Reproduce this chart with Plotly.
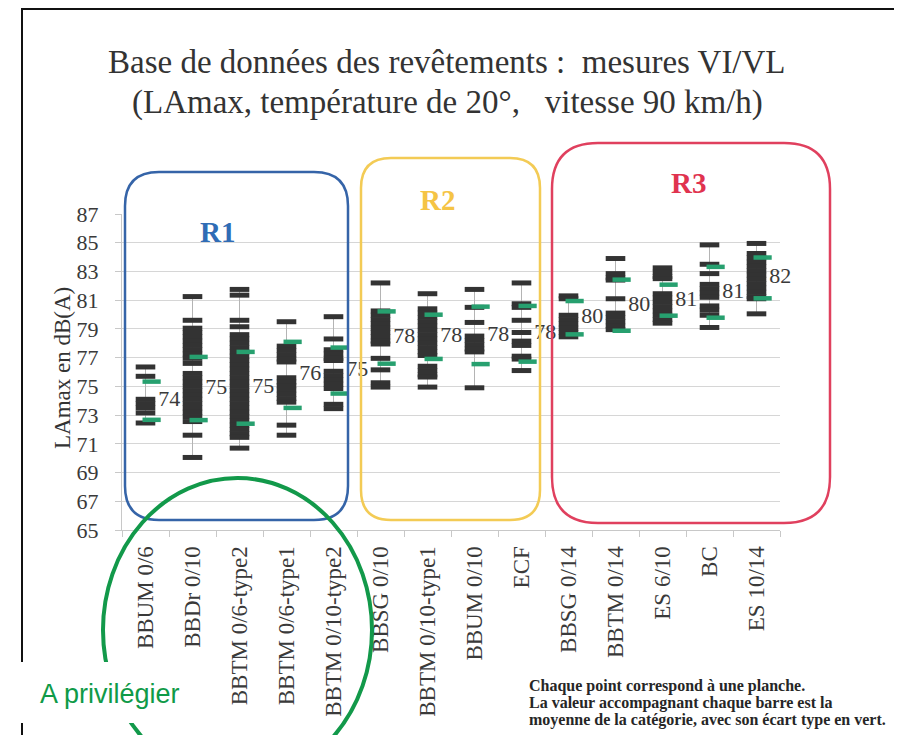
import plotly.graph_objects as go

# ---------------- data ----------------
categories = ["BBUM 0/6", "BBDr 0/10", "BBTM 0/6-type2", "BBTM 0/6-type1", "BBTM 0/10-type2",
              "BBSG 0/10", "BBTM 0/10-type1", "BBUM 0/10", "ECF",
              "BBSG 0/14", "BBTM 0/14", "ES 6/10", "BC", "ES 10/14"]

pts_bbum06 = [76.35, 75.7, 74.1, 73.8, 73.5, 73.15, 72.45]
pts_bbdr010 = [81.25, 79.6, 79.05, 78.75, 78.45, 78.15, 77.85, 77.55, 77.25, 76.95, 76.6,
               75.9, 75.6, 75.3, 75.0, 74.7, 74.4, 74.1, 73.8, 73.5, 73.2, 72.9, 72.55, 71.6, 70.05]
pts_bbtm06t2 = [81.75, 81.35, 79.6, 79.15, 78.6, 78.3, 78.0, 77.7, 77.4, 77.1, 76.8, 76.5, 76.2,
                75.9, 75.6, 75.3, 75.0, 74.7, 74.4, 74.1, 73.8, 73.5, 73.2, 72.9, 72.6, 72.3,
                72.0, 71.7, 71.45, 70.7]
pts_bbtm06t1 = [79.5, 77.8, 77.5, 77.2, 76.9, 76.7, 75.6, 75.3, 75.05, 74.75, 74.45, 74.15, 73.9,
                72.3, 71.6]
pts_bbtm010t2 = [79.85, 78.3, 77.55, 77.25, 76.95, 76.8, 76.05, 75.75, 75.45, 75.15, 74.85,
                 73.75, 73.45]
pts_bbsg010 = [82.2, 80.25, 79.95, 79.65, 79.35, 79.05, 78.75, 78.45, 78.15, 77.95, 76.95, 76.15,
               75.25, 74.95]
pts_bbtm010t1 = [81.45, 80.4, 80.1, 79.8, 79.5, 79.2, 78.9, 78.6, 78.3, 78.0, 77.7, 77.4, 77.15,
                 76.4, 76.1, 75.8, 75.65, 74.95]
pts_bbum010 = [81.75, 80.5, 79.45, 78.5, 78.2, 77.9, 77.6, 77.4, 74.9]
pts_ecf = [82.2, 80.75, 80.5, 79.6, 78.75, 78.15, 77.85, 77.1, 76.9, 76.1]
pts_bbsg014 = [81.3, 81.1, 79.95, 79.65, 79.35, 79.05, 78.75, 78.45]
pts_bbtm014 = [83.9, 82.85, 82.55, 82.4, 81.1, 80.1, 79.8, 79.5, 79.2, 78.95]
pts_es610 = [83.25, 82.95, 82.65, 82.5, 81.45, 81.15, 80.85, 80.55, 80.25, 79.95, 79.65, 79.4]
pts_bc = [84.85, 83.5, 82.85, 82.1, 81.8, 81.5, 81.2, 80.6, 80.3, 79.95, 79.1]
pts_es1014 = [84.95, 84.25, 83.95, 83.65, 83.35, 83.05, 82.75, 82.45, 82.15, 81.85, 81.55,
              81.25, 81.1, 80.05]

mean_vals = [74.0, 74.85, 74.9, 75.8, 76.1, 78.4, 78.45, 78.55, 78.66, 79.78, 80.65, 81.0, 81.55, 82.55]
sd_vals = [1.33, 2.2, 2.5, 2.3, 1.6, 1.82, 1.54, 2.0, 1.94, 1.16, 1.78, 1.08, 1.77, 1.42]
mean_labels = ["74", "75", "75", "76", "75", "78", "78", "78", "78", "80", "80", "81", "81", "82"]

y_ticks = list(range(65, 88, 2))

points = [pts_bbum06, pts_bbdr010, pts_bbtm06t2, pts_bbtm06t1, pts_bbtm010t2,
          pts_bbsg010, pts_bbtm010t1, pts_bbum010, pts_ecf,
          pts_bbsg014, pts_bbtm014, pts_es610, pts_bc, pts_es1014]

# ---------------- layout geometry ----------------
# page body has an 8px margin: figure is drawn 8px right/down in the window
OFF = 8
W, H = 902 - OFF, 735 - OFF
PL, PR, PT, PB = 122, 780, 214, 530          # plot area in window pixels
L, T = PL - OFF, PT - OFF
R, B = W - (PR - OFF), H - (PB - OFF)
PW, PH = PR - PL, PB - PT

def px(x):
    return (x - PL) / PW

def py(y):
    return (PB - y) / PH

SERIF = "Liberation Serif"
SANS = "Liberation Sans"
DARK = "#333333"
GREEN_MK = "#27a06f"

fig = go.Figure()

# whiskers (min-max thin grey line)
for i, pts in enumerate(points):
    fig.add_trace(go.Scatter(x=[i, i], y=[min(pts), max(pts)], mode="lines",
                             line=dict(color="#b4b4b4", width=1), hoverinfo="skip",
                             showlegend=False))

# individual measurements
xs, ys = [], []
for i, pts in enumerate(points):
    xs += [i] * len(pts)
    ys += pts
fig.add_trace(go.Scatter(x=xs, y=ys, mode="markers", showlegend=False,
                         marker=dict(symbol="line-ew", size=14,
                                     line=dict(color=DARK, width=5))))

# mean +/- sd in green
gx, gy = [], []
for i, (m, s) in enumerate(zip(mean_vals, sd_vals)):
    gx += [i + 0.13, i + 0.13]
    gy += [m + s, m - s]
fig.add_trace(go.Scatter(x=gx, y=gy, mode="markers", showlegend=False,
                         marker=dict(symbol="line-ew", size=13,
                                     line=dict(color=GREEN_MK, width=4.5))))

# mean labels
fig.add_trace(go.Scatter(x=[i + 0.27 for i in range(len(categories))], y=mean_vals,
                         mode="text", text=mean_labels, textposition="middle right",
                         textfont=dict(family=SERIF, size=22, color="#3a3a3a"),
                         cliponaxis=False, showlegend=False, hoverinfo="skip"))

# ---------------- shapes ----------------
def rrect(x0, y0, x1, y1, r):
    def P(x, y):
        return f"{px(x):.5f},{py(y):.5f}"
    return (f"M{P(x0 + r, y0)} L{P(x1 - r, y0)} Q{P(x1, y0)} {P(x1, y0 + r)} "
            f"L{P(x1, y1 - r)} Q{P(x1, y1)} {P(x1 - r, y1)} L{P(x0 + r, y1)} "
            f"Q{P(x0, y1)} {P(x0, y1 - r)} L{P(x0, y0 + r)} Q{P(x0, y0)} {P(x0 + r, y0)} Z")

shapes = [
    dict(type="path", xref="paper", yref="paper", path=rrect(125, 172, 348, 520, 34),
         line=dict(color="#3564a8", width=2.5), layer="above"),
    dict(type="path", xref="paper", yref="paper", path=rrect(361, 158, 540, 520, 30),
         line=dict(color="#f3cb55", width=2.5), layer="above"),
    dict(type="path", xref="paper", yref="paper", path=rrect(552, 143, 830, 523, 46),
         line=dict(color="#e0405e", width=2.5), layer="above"),
    dict(type="circle", xref="paper", yref="paper", x0=px(103), x1=px(372), y0=py(478), y1=py(782),
         line=dict(color="#12994a", width=4), layer="above"),
    dict(type="line", xref="paper", yref="paper", x0=px(22), x1=px(22), y0=py(9), y1=py(745),
         line=dict(color="#111111", width=2), layer="above"),
    dict(type="line", xref="paper", yref="paper", x0=px(21), x1=px(910), y0=py(9), y1=py(9),
         line=dict(color="#111111", width=2), layer="above"),
    dict(type="rect", xref="paper", yref="paper", x0=px(0), x1=px(205), y0=py(662), y1=py(723),
         fillcolor="white", line=dict(width=0), layer="above"),
]

# ---------------- annotations ----------------
ann = []
def A(text, x, y, size, color="#333333", family=SERIF, xanchor="center", angle=0, bold=False):
    t = f"<b>{text}</b>" if bold else text
    ann.append(dict(text=t, x=px(x), y=py(y), xref="paper", yref="paper", showarrow=False,
                    xanchor=xanchor, yanchor="middle", textangle=angle,
                    font=dict(family=family, size=size, color=color)))

A("Base de données des revêtements :\u00a0 mesures VI/VL", 447, 62, 33)
A("(LAmax, température de 20°,\u00a0\u00a0 vitesse 90 km/h)", 447, 103, 33)
A("R1", 217, 232, 29, color="#2f6cb5", bold=True)
A("R2", 437, 200, 29, color="#f5c445", bold=True)
A("R3", 688, 183, 29, color="#e0334f", bold=True)
A("LAmax en dB(A)", 62, 368, 23, angle=-90)
A("Chaque point correspond à une planche.", 527, 686, 16, color="#262626", xanchor="left", bold=True)
A("La valeur accompagnant chaque barre est la", 527, 703, 16, color="#262626", xanchor="left", bold=True)
A("moyenne de la catégorie, avec son écart type en vert.", 527, 720, 16, color="#262626", xanchor="left", bold=True)
A("A privilégier", 110, 694, 27, color="#0f9a48", family=SANS)

fig.update_layout(
    width=W, height=H,
    margin=dict(l=L, r=R, t=T, b=B, pad=0),
    paper_bgcolor="white", plot_bgcolor="white",
    showlegend=False,
    shapes=shapes, annotations=ann,
    xaxis=dict(range=[-0.5, len(categories) - 0.5], tickmode="array",
               tickvals=list(range(len(categories))), ticktext=categories,
               tickangle=-90, ticks="", showgrid=False, zeroline=False,
               showline=True, linecolor="#c8c8c8", linewidth=1,
               tickfont=dict(family=SERIF, size=23, color="#3a3a3a"),
               ticklabelstandoff=6,
               minor=dict(tick0=-0.5, dtick=1, ticks="outside", ticklen=6,
                          tickcolor="#c8c8c8", showgrid=False)),
    yaxis=dict(range=[65, 87], tickmode="array", tickvals=y_ticks,
               ticks="outside", ticklen=6, tickcolor="#c8c8c8",
               showgrid=True, gridcolor="#d6d6d6", gridwidth=1, zeroline=False,
               showline=True, linecolor="#c8c8c8",
               tickfont=dict(family=SERIF, size=22, color="#3a3a3a"),
               ticklabelstandoff=12),
)

fig.write_html("out.html")
